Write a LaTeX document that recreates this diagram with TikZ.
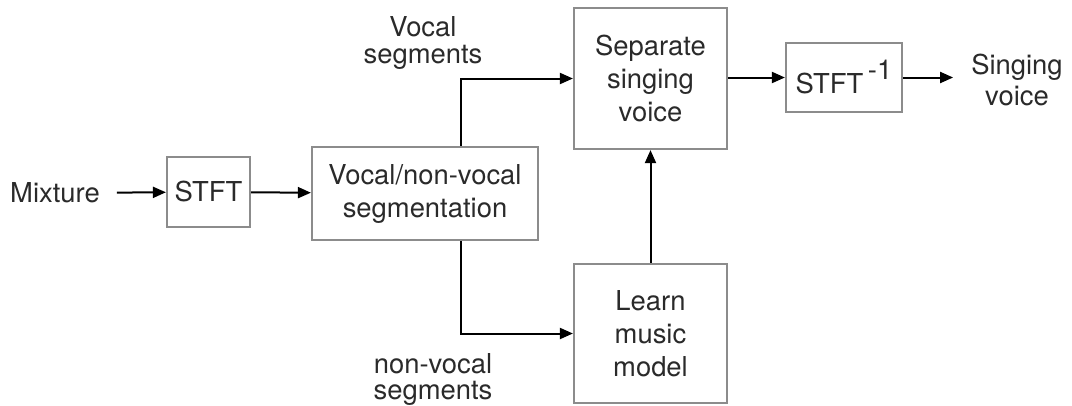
\documentclass[tikz,border=0pt]{standalone}
\usepackage{fontspec}
\setmainfont{TeX Gyre Heros}
\usetikzlibrary{arrows.meta}
\definecolor{boxgray}{HTML}{8C8C8C}
\definecolor{txt}{HTML}{2A2A2A}
\begin{document}
\begin{tikzpicture}[x=1pt,y=-1pt,
  every node/.style={text=txt,font=\fontsize{27.4}{33}\selectfont,align=center},
  blk/.style={draw=boxgray,line width=2.2pt,inner sep=0pt},
  lbl/.style={inner sep=0pt},
  arr/.style={line width=2pt,-{Triangle[length=13pt,width=11pt]}},
  ln/.style={line width=2pt}]
\useasboundingbox (0,0) rectangle (1072,405);
\node[blk,minimum width=83pt,minimum height=70pt] (stft) at (208.5,192) {STFT};
\node[blk,minimum width=226pt,minimum height=93pt] (seg) at (425,193.5) {Vocal/non-vocal\\segmentation};
\node[blk,minimum width=153pt,minimum height=141pt] (sep) at (650.5,78.5) {Separate\\singing\\voice};
\node[blk,minimum width=153pt,minimum height=139pt] (learn) at (650.5,333.5) {Learn\\music\\model};
\node[blk,minimum width=116pt,minimum height=69pt] (istft) at (844,77.5) {STFT\,\raisebox{14pt}{-1}};
\node[lbl] (mix) at (55,193) {Mixture};
\node[lbl,font=\fontsize{27.4}{31}\selectfont] (out) at (1017,80) {Singing\\voice};
\node[lbl,font=\fontsize{27.4}{27}\selectfont] (vlab) at (423,43) {Vocal\\segments};
\node[lbl,font=\fontsize{27.4}{26}\selectfont] (nvlab) at (433,379) {non-vocal\\segments};
\coordinate (vx) at (461,0);
\draw[arr,shorten <=17pt] (mix) -- (stft);
\draw[arr] (stft) -- (seg);
\draw[arr] (seg.north -| vx) |- (sep.west);
\draw[arr] (seg.south -| vx) |- (learn.west);
\draw[arr] (learn) -- (sep);
\draw[arr] (sep.east |- istft.west) -- (istft.west);
\draw[arr,shorten >=18pt] (istft.east) -- (istft.east -| out.west);
\end{tikzpicture}
\end{document}
